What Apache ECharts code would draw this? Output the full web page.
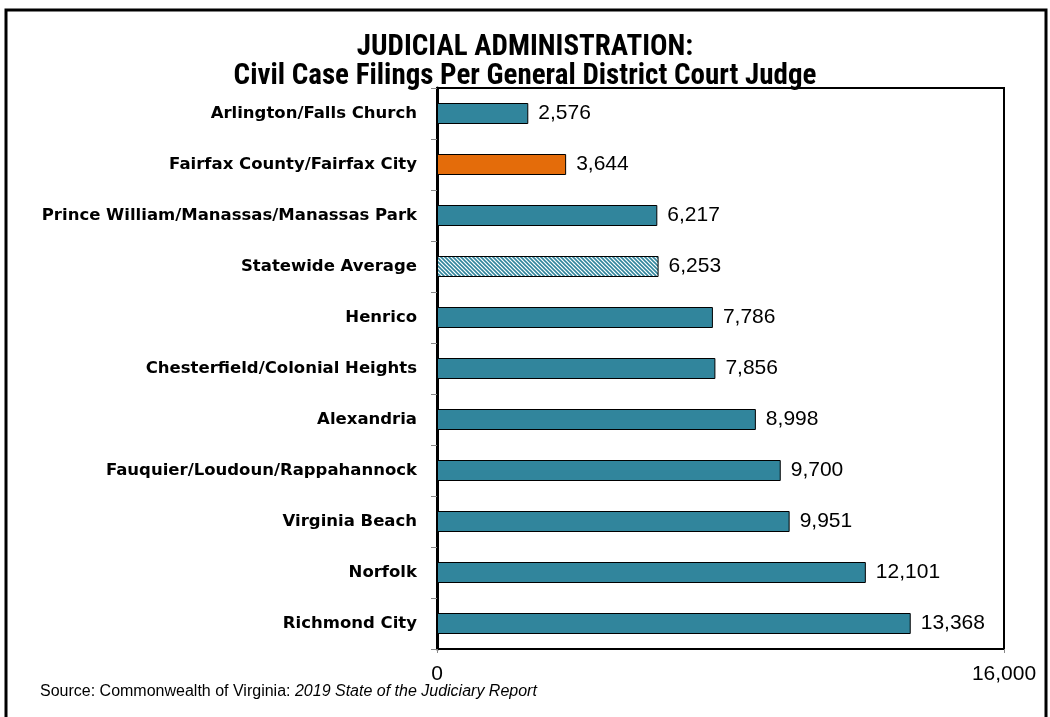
<!DOCTYPE html>
<html>
<head>
<meta charset="utf-8">
<script src="https://cdn.jsdelivr.net/npm/echarts@6/dist/echarts.min.js"></script>
<style>
html,body{margin:0;padding:0;background:#fff;}
#chart{width:1050px;height:717px;}
</style>
</head>
<body>
<div id="chart"></div>
<script>
const categories = [
  "Arlington/Falls Church",
  "Fairfax County/Fairfax City",
  "Prince William/Manassas/Manassas Park",
  "Statewide Average",
  "Henrico",
  "Chesterfield/Colonial Heights",
  "Alexandria",
  "Fauquier/Loudoun/Rappahannock",
  "Virginia Beach",
  "Norfolk",
  "Richmond City"
];
const values = [2576, 3644, 6217, 6253, 7786, 7856, 8998, 9700, 9951, 12101, 13368];
const highlightName = "Fairfax County/Fairfax City";
const averageName = "Statewide Average";
const axisMin = 0;
const axisMax = 16000;
const titleLines = ["JUDICIAL ADMINISTRATION:", "Civil Case Filings Per General District Court Judge"];

const TEAL = "#31859C";
const ORANGE = "#E46C0A";

// hatch pattern
const pc = document.createElement("canvas");
pc.width = 4; pc.height = 4;
const g = pc.getContext("2d");
g.fillStyle = "#ffffff";
g.fillRect(0, 0, 4, 4);
g.strokeStyle = TEAL;
g.lineWidth = 1.6;
g.beginPath();
g.moveTo(-1, -1); g.lineTo(5, 5);
g.moveTo(-3, 1); g.lineTo(3, 7);
g.moveTo(1, -3); g.lineTo(7, 3);
g.stroke();

const data = values.map((v, i) => {
  let color = TEAL;
  if (categories[i] === highlightName) color = ORANGE;
  if (categories[i] === averageName) color = { image: pc, repeat: "repeat" };
  return { value: v, itemStyle: { color: color, borderColor: "#000", borderWidth: 1 } };
});

const fmt = n => n.toString().replace(/\B(?=(\d{3})+(?!\d))/g, ",");

const chart = echarts.init(document.getElementById("chart"), null, { renderer: "canvas" });
chart.setOption({
  animation: false,
  backgroundColor: "#fff",
  title: {
    text: titleLines.join("\n"),
    left: "center",
    top: 28,
    textStyle: {
      fontFamily: "'Liberation Sans Narrow', 'Roboto Condensed', 'Liberation Sans', sans-serif",
      fontWeight: "bold",
      fontSize: 29,
      lineHeight: 29,
      color: "#000"
    }
  },
  grid: {
    left: 437, right: 46, top: 88, bottom: 68,
    show: true, borderColor: "#000", borderWidth: 2, backgroundColor: "transparent"
  },
  xAxis: {
    type: "value",
    min: axisMin, max: axisMax, interval: axisMax,
    splitLine: { show: false },
    axisLine: { show: true, lineStyle: { color: "#000", width: 2 } },
    axisTick: { show: true, length: 4, lineStyle: { color: "#888" } },
    axisLabel: {
      formatter: v => fmt(v),
      fontFamily: "'Liberation Sans', Arial, sans-serif",
      fontSize: 21, color: "#000", margin: 15
    }
  },
  yAxis: {
    type: "category",
    data: categories,
    inverse: true,
    axisLine: { show: true, lineStyle: { color: "#000", width: 3 } },
    axisTick: { show: true, length: 6, lineStyle: { color: "#888" } },
    axisLabel: {
      fontFamily: "'DejaVu Sans', 'Liberation Sans', Arial, sans-serif",
      fontWeight: "bold",
      fontSize: 16.5, color: "#000", margin: 20
    }
  },
  series: [{
    type: "bar",
    data: data,
    barWidth: 21,
    label: {
      show: true, position: "right", distance: 10,
      formatter: p => fmt(p.value),
      fontFamily: "'Liberation Sans', Arial, sans-serif",
      fontSize: 21, color: "#000"
    }
  }],
  graphic: [
    {
      type: "rect",
      shape: { x: 6, y: 10, width: 1040, height: 720 },
      style: { fill: "none", stroke: "#000", lineWidth: 3 },
      silent: true
    },
    {
      type: "text",
      left: 40, top: 684,
      style: {
        text: "{n|Source: Commonwealth of Virginia: }{i|2019 State of the Judiciary Report}",
        rich: {
          n: { fontFamily: "'Liberation Sans', sans-serif", fontSize: 16, fill: "#000" },
          i: { fontFamily: "'Liberation Sans', sans-serif", fontSize: 16, fontStyle: "italic", fill: "#000" }
        }
      }
    }
  ]
});
</script>
</body>
</html>
